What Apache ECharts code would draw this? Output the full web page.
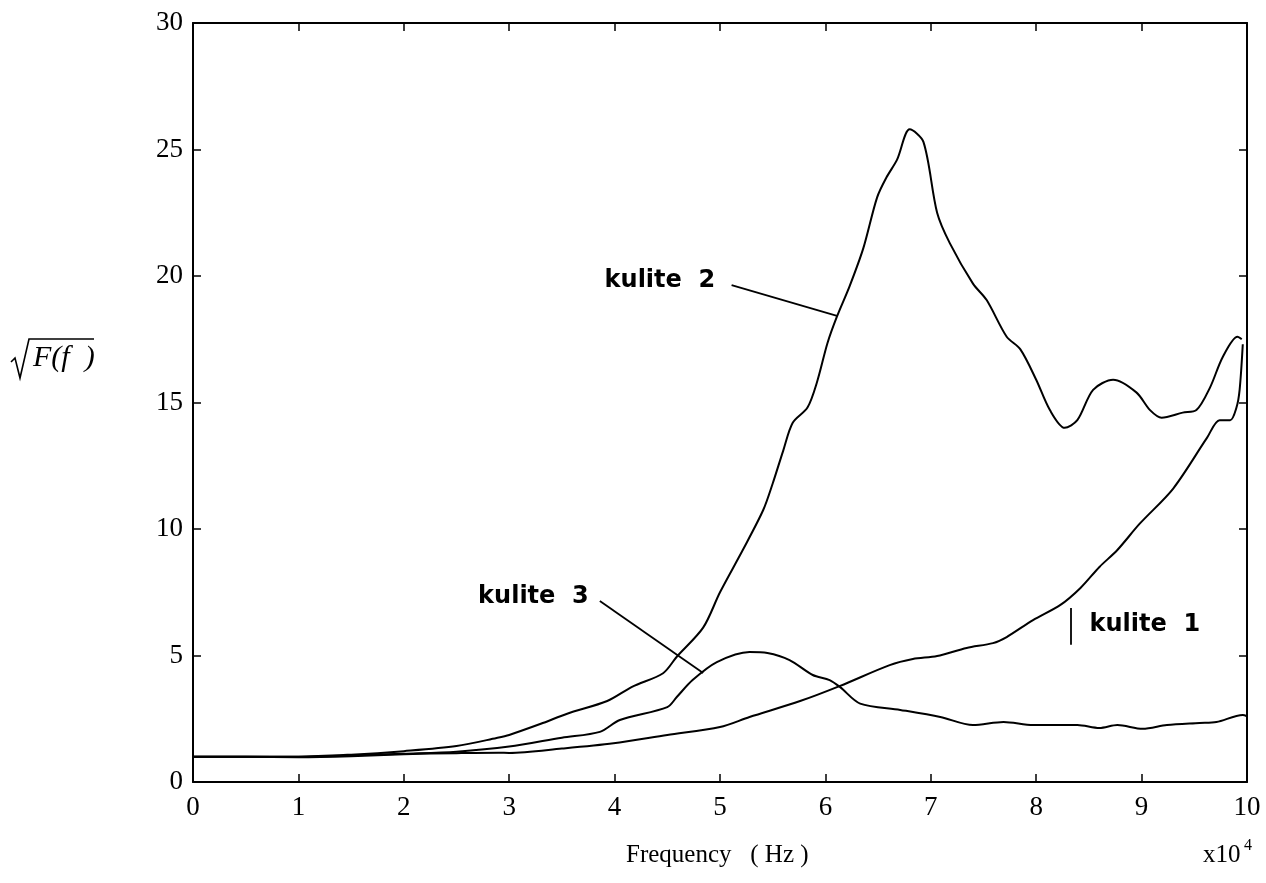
<!DOCTYPE html>
<html>
<head>
<meta charset="utf-8">
<script src="https://cdn.jsdelivr.net/npm/echarts@6/dist/echarts.min.js"></script>
<style>
html,body{margin:0;padding:0;background:#fff;}
#c{width:1266px;height:883px;}
</style>
</head>
<body>
<div id="c"></div>
<script>
// x in units of 10^4 Hz, y = sqrt(F(f))
const kulite1 = [[0,1.0],[0.5,1.0],[1.0,0.98],[1.5,1.02],[2.0,1.1],[2.5,1.14],[2.9,1.16],[3.0,1.15],[3.5,1.32],[3.99,1.53],[4.5,1.86],[5.0,2.17],[5.28,2.57],[5.76,3.2],[6.14,3.8],[6.61,4.62],[6.83,4.86],[7.06,4.98],[7.34,5.3],[7.59,5.49],[7.72,5.73],[7.97,6.4],[8.23,7.0],[8.42,7.67],[8.6,8.5],[8.77,9.17],[8.98,10.2],[9.3,11.6],[9.62,13.6],[9.74,14.3],[9.84,14.3],[9.9,14.8],[9.93,15.5],[9.96,17.3]];
const kulite2 = [[0,1.0],[0.5,1.0],[1.0,1.0],[1.5,1.08],[2.0,1.22],[2.5,1.42],[2.88,1.74],[3.0,1.86],[3.3,2.3],[3.55,2.7],[3.93,3.2],[4.17,3.77],[4.46,4.3],[4.59,4.95],[4.84,6.1],[5.0,7.5],[5.22,9.2],[5.41,10.75],[5.5,11.8],[5.6,13.1],[5.69,14.2],[5.83,14.8],[5.92,15.8],[6.02,17.35],[6.11,18.4],[6.23,19.6],[6.36,21.1],[6.49,23.1],[6.58,23.9],[6.68,24.6],[6.8,25.8],[6.93,25.3],[7.06,22.5],[7.18,21.3],[7.4,19.7],[7.53,19.05],[7.72,17.6],[7.85,17.1],[8.0,15.9],[8.13,14.7],[8.27,14.0],[8.39,14.3],[8.54,15.5],[8.73,15.9],[8.95,15.4],[9.08,14.7],[9.19,14.4],[9.39,14.6],[9.52,14.7],[9.65,15.6],[9.77,16.8],[9.91,17.6],[9.95,17.5]];
const kulite3 = [[0,1.0],[0.5,1.0],[1.0,1.0],[1.5,1.05],[2.0,1.12],[2.5,1.2],[3.0,1.4],[3.5,1.75],[3.86,1.98],[4.05,2.45],[4.5,2.96],[4.59,3.36],[4.74,4.03],[4.97,4.74],[5.28,5.14],[5.45,5.1],[5.66,4.82],[5.88,4.23],[6.04,4.03],[6.14,3.75],[6.33,3.1],[6.71,2.85],[7.09,2.57],[7.4,2.25],[7.69,2.37],[7.97,2.25],[8.39,2.25],[8.6,2.13],[8.77,2.25],[9.01,2.1],[9.24,2.25],[9.55,2.33],[9.71,2.37],[9.96,2.65],[10,2.6]];

const xTicks = [0,1,2,3,4,5,6,7,8,9,10];
const yTicks = [0,5,10,15,20,25,30];

// annotation texts and leader lines (data coordinates)
const labelNames = ['kulite  2','kulite  3','kulite  1'];
const labelPos = [[4.43,19.8],[3.23,7.31],[9.03,6.2]];
const leaderLines = [
  [[5.11,19.64],[6.11,18.42]],
  [[3.86,7.15],[4.84,4.31]],
  [[8.33,6.88],[8.33,5.42]]
];

const chart = echarts.init(document.getElementById('c'), null, {renderer:'canvas'});
const serif = 'Liberation Serif';
const axisLineStyle = {color:'#000', width:2};
function lineSeries(name, data){
  return {name:name, type:'line', data:data, smooth:0.3, symbol:'none',
    lineStyle:{color:'#000', width:2}, xAxisIndex:0, yAxisIndex:0, z:3};
}
const option = {
  animation:false,
  backgroundColor:'#fff',
  grid:{left:193, right:19, top:23, bottom:101, show:false},
  xAxis:[
    {type:'value', position:'bottom', min:0, max:10, interval:1,
     axisLine:{show:true, onZero:false, lineStyle:axisLineStyle},
     axisTick:{show:true, inside:true, length:8, lineStyle:{color:'#000', width:1.5}},
     axisLabel:{show:true, margin:12, color:'#000', fontFamily:serif, fontSize:27,
       formatter:function(v){return xTicks.indexOf(v)>=0 ? String(v) : '';}},
     splitLine:{show:false}},
    {type:'value', position:'top', min:0, max:10, interval:1,
     axisLine:{show:true, onZero:false, lineStyle:axisLineStyle},
     axisTick:{show:true, inside:true, length:8, lineStyle:{color:'#000', width:1.5}},
     axisLabel:{show:false}, splitLine:{show:false}}
  ],
  yAxis:[
    {type:'value', position:'left', min:0, max:30, interval:5,
     axisLine:{show:true, onZero:false, lineStyle:axisLineStyle},
     axisTick:{show:true, inside:true, length:8, lineStyle:{color:'#000', width:1.5}},
     axisLabel:{show:true, margin:10, color:'#000', fontFamily:serif, fontSize:27,
       formatter:function(v){return yTicks.indexOf(v)>=0 ? String(v) : '';}},
     splitLine:{show:false}},
    {type:'value', position:'right', min:0, max:30, interval:5,
     axisLine:{show:true, onZero:false, lineStyle:axisLineStyle},
     axisTick:{show:true, inside:true, length:8, lineStyle:{color:'#000', width:1.5}},
     axisLabel:{show:false}, splitLine:{show:false}}
  ],
  series:[
    lineSeries('kulite 1', kulite1),
    lineSeries('kulite 2', kulite2),
    lineSeries('kulite 3', kulite3),
    {type:'line', data:[], xAxisIndex:0, yAxisIndex:0, silent:true,
     markLine:{symbol:['none','none'], silent:true, animation:false,
       lineStyle:{color:'#000', width:1.8, type:'solid', opacity:1}, label:{show:false},
       emphasis:{disabled:true},
       data:leaderLines.map(function(l){return [{coord:l[0]},{coord:l[1]}];})}},
    {type:'line', data:[], xAxisIndex:0, yAxisIndex:0, silent:true,
     markPoint:{symbol:'circle', symbolSize:1, silent:true, animation:false,
       itemStyle:{color:'rgba(0,0,0,0)'},
       label:{show:true, position:'inside', formatter:function(p){return p.name;},
         color:'#000', opacity:1, textBorderWidth:0, fontFamily:'DejaVu Sans', fontWeight:'bold', fontSize:24},
       emphasis:{disabled:true},
       data:labelPos.map(function(p,i){return {coord:p, name:labelNames[i]};})}}
  ],
  graphic:[
    {type:'polyline', shape:{points:[[11,362],[15,358],[20,378],[29,339],[94,339]]},
     style:{stroke:'#000', lineWidth:1.6, fill:null}},
    {type:'text', left:33, top:343, style:{text:'F(f  )', font:'italic 30px "Liberation Serif"', fill:'#000'}},
    {type:'text', left:626, top:843, style:{text:'Frequency   ( Hz )', font:'25px "Liberation Serif"', fill:'#000'}},
    {type:'text', left:1203, top:843, style:{text:'x10', font:'25px "Liberation Serif"', fill:'#000'}},
    {type:'text', left:1244, top:838, style:{text:'4', font:'16px "Liberation Serif"', fill:'#000'}}
  ]
};
chart.setOption(option);
</script>
</body>
</html>
